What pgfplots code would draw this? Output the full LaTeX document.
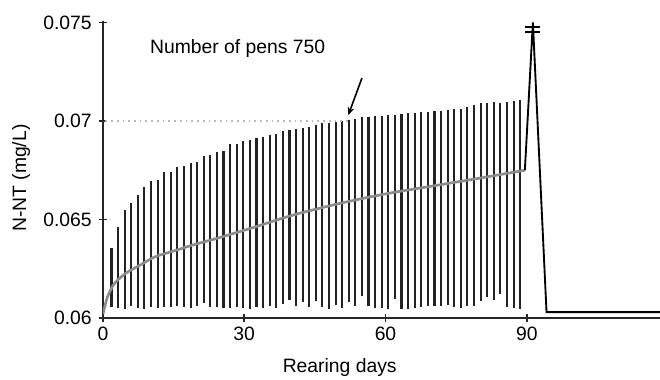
\documentclass[border=0pt]{standalone}
\usepackage{pgfplots}
\pgfplotsset{compat=1.18}
\usepackage{fontspec}
\setmainfont{Liberation Sans}
\usetikzlibrary{arrows.meta}
\definecolor{barc}{HTML}{222222}
\definecolor{curvec}{HTML}{8C8C8C}
\definecolor{dotc}{HTML}{B8B8B8}
\begin{document}
\begin{tikzpicture}[font=\fontsize{14.5bp}{17bp}\selectfont]
\begin{axis}[
  scale only axis, width=417.75bp, height=223.1bp,
  xmin=0, xmax=118.3, ymin=0.06, ymax=0.0751,
  axis lines=left, axis line style={-, black!85, line width=1.2bp},
  xtick={0,30,60,90}, xticklabels={0,30,60,90},
  ytick={0.06,0.065,0.07,0.075}, yticklabels={0.06,0.065,0.07,0.075},
  scaled y ticks=false,
  tick align=center, major tick length=6bp,
  tick style={black!85, line width=1.2bp},
  yticklabel style={xshift=-2bp},
  /pgf/number format/assume math mode=true,
  ylabel={N-NT (mg/L)}, xlabel={Rearing days},
  ylabel style={at={(axis description cs:-0.147,0.47)}, anchor=center, rotate=0},
  xlabel style={at={(axis description cs:0.425,0)}, anchor=center, yshift=-37bp},
]
\coordinate (O) at (rel axis cs:0,0);
% vertical bars (daily fluctuations)
\addplot[barc, line width=1.6bp, unbounded coords=jump] table {
x y
1.8 0.06055
1.8 0.06357
nan nan
3.2 0.06050
3.2 0.06463
nan nan
4.6 0.06048
4.6 0.06548
nan nan
6.0 0.06060
6.0 0.06585
nan nan
7.4 0.06052
7.4 0.06624
nan nan
8.8 0.06048
8.8 0.06663
nan nan
10.2 0.06055
10.2 0.06695
nan nan
11.6 0.06050
11.6 0.06700
nan nan
13.0 0.06058
13.0 0.06740
nan nan
14.4 0.06055
14.4 0.06742
nan nan
15.8 0.06060
15.8 0.06765
nan nan
17.2 0.06055
17.2 0.06770
nan nan
18.6 0.06050
18.6 0.06788
nan nan
20.0 0.06060
20.0 0.06792
nan nan
21.4 0.06075
21.4 0.06822
nan nan
22.8 0.06058
22.8 0.06826
nan nan
24.2 0.06055
24.2 0.06843
nan nan
25.6 0.06050
25.6 0.06850
nan nan
27.0 0.06052
27.0 0.06882
nan nan
28.4 0.06055
28.4 0.06884
nan nan
29.8 0.06050
29.8 0.06898
nan nan
31.2 0.06048
31.2 0.06904
nan nan
32.6 0.06055
32.6 0.06915
nan nan
34.0 0.06050
34.0 0.06917
nan nan
35.4 0.06060
35.4 0.06929
nan nan
36.8 0.06052
36.8 0.06934
nan nan
38.2 0.06070
38.2 0.06949
nan nan
39.6 0.06090
39.6 0.06952
nan nan
41.0 0.06062
41.0 0.06958
nan nan
42.4 0.06080
42.4 0.06962
nan nan
43.8 0.06055
43.8 0.06972
nan nan
45.2 0.06085
45.2 0.06980
nan nan
46.6 0.06058
46.6 0.06988
nan nan
48.0 0.06045
48.0 0.06992
nan nan
49.4 0.06065
49.4 0.06997
nan nan
50.8 0.06050
50.8 0.07000
nan nan
52.2 0.06080
52.2 0.07006
nan nan
53.6 0.06062
53.6 0.07012
nan nan
55.0 0.06110
55.0 0.07019
nan nan
56.4 0.06060
56.4 0.07021
nan nan
57.8 0.06052
57.8 0.07025
nan nan
59.2 0.06050
59.2 0.07027
nan nan
60.6 0.06045
60.6 0.07030
nan nan
62.0 0.06095
62.0 0.07033
nan nan
63.4 0.06048
63.4 0.07036
nan nan
64.8 0.06045
64.8 0.07040
nan nan
66.2 0.06050
66.2 0.07043
nan nan
67.6 0.06058
67.6 0.07046
nan nan
69.0 0.06060
69.0 0.07048
nan nan
70.4 0.06062
70.4 0.07051
nan nan
71.8 0.06060
71.8 0.07053
nan nan
73.2 0.06065
73.2 0.07056
nan nan
74.6 0.06055
74.6 0.07059
nan nan
76.0 0.06052
76.0 0.07063
nan nan
77.4 0.06060
77.4 0.07072
nan nan
78.8 0.06062
78.8 0.07082
nan nan
80.2 0.06085
80.2 0.07090
nan nan
81.6 0.06105
81.6 0.07093
nan nan
83.0 0.06090
83.0 0.07094
nan nan
84.4 0.06120
84.4 0.07090
nan nan
85.8 0.06055
85.8 0.07098
nan nan
87.2 0.06050
87.2 0.07100
nan nan
88.6 0.06048
88.6 0.07107
};
% dotted reference line (750 pens)
\addplot[dotc, line width=1.3bp, dash pattern=on 1.3bp off 3bp] coordinates {(0.5,0.0700) (52,0.0700)};
% mean curve
\addplot[curvec, line width=2bp, smooth] coordinates {
(0,0.0602) (0.5,0.0607) (1,0.0611) (2,0.0616) (3,0.0619) (5,0.0623) (8,0.0627)
(11,0.0631) (15,0.0634) (19,0.0637) (25,0.0641) (32,0.0646) (40,0.0652)
(50,0.0658) (60,0.0663) (70,0.0667) (80,0.0671) (89.6,0.0675)};
% peak and drop
\addplot[black, line width=1.4bp] coordinates {(89.6,0.0675) (91.3,0.0750) (94.2,0.0603) (118.3,0.0603)};
% axis break marks at the peak
\addplot[black, line width=1.3bp, unbounded coords=jump] table {
x y
89.7 0.07478
92.9 0.07478
nan nan
89.7 0.07450
92.9 0.07450
};
\node[anchor=west] at (axis cs:9.0,0.0737) {Number of pens 750};
\draw[-{Stealth[length=6bp,width=5bp]}, line width=1.2bp] (axis cs:55,0.07218) -- (axis cs:52.1,0.0703);
\end{axis}
\pgfresetboundingbox
\path[use as bounding box] ([shift={(-77.25bp,-46.5bp)}]O) rectangle ++(495bp,285bp);
\end{tikzpicture}
\end{document}
